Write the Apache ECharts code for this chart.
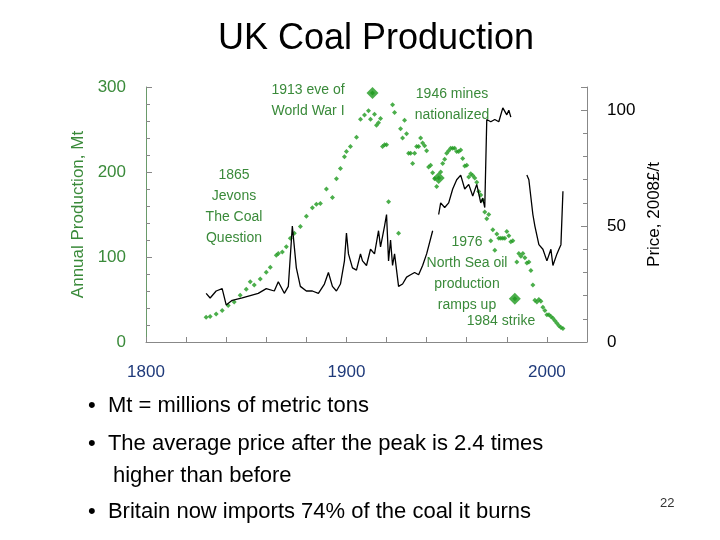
<!DOCTYPE html>
<html><head><meta charset="utf-8">
<script src="https://cdn.jsdelivr.net/npm/echarts@6/dist/echarts.min.js"></script>
<style>body{margin:0;background:#fff}#c{width:720px;height:540px}</style>
</head><body><div id="c"></div>
<script>
// production, Mt (left axis)
var prodYears = [1830,1832,1835,1838,1841,1844,1847,1850,1852,1854,1857,1860,1862,1865,1866,1868,1870,1872,1874,1877,1880,1883,1885,1887,1890,1893,1895,1897,1899,1900,1902,1905,1907,1909,1911,1912,1913,1914,1915,1916,1917,1918,1919,1920,1921,1923,1924,1926,1927,1928,1929,1930,1931,1932,1933,1934,1935,1936,1937,1938,1939,1940,1941,1942,1943,1944,1945,1946,1947,1948,1949,1950,1951,1952,1953,1954,1955,1956,1957,1958,1959,1960,1961,1962,1963,1964,1965,1966,1967,1968,1969,1970,1971,1972,1973,1974,1975,1976,1977,1978,1979,1980,1981,1982,1983,1984,1985,1986,1987,1988,1989,1990,1991,1992,1993,1994,1995,1996,1997,1998,1999,2000,2001,2002,2003,2004,2005,2006,2007,2008];
var prodValues = [29,30,33,37,43,47,55,62,71,67,74,82,88,102,104,106,112,122,128,136,148,158,162,163,180,170,192,204,218,224,230,241,262,267,272,262,293,268,255,258,263,230,232,232,165,279,270,128,251,240,261,245,222,222,210,222,230,230,240,234,231,225,206,208,199,192,183,193,200,210,215,222,225,228,228,228,224,224,226,216,207,208,194,198,196,193,188,177,173,167,153,145,150,119,132,108,127,122,122,122,122,130,125,118,119,51,94,104,101,104,99,93,94,84,67,49,47,50,48,41,37,32,32,30,28,25,22,19,17,16];
// price, 2008 £/t (right axis); null = gap
var priceYears = [1830,1832,1835,1838,1840,1843,1848,1852,1856,1860,1864,1866,1869,1871,1873,1875,1877,1880,1883,1886,1889,1891,1893,1895,1897,1899,1900,1901,1903,1905,1907,1908,1910,1912,1914,1916,1917,1919,1920,1921,1922,1923,1924,1926,1928,1930,1932,1934,1936,1938,1940,1943,1945,1946,1947,1949,1951,1953,1955,1957,1959,1961,1963,1965,1967,1968,1969,1970,1972,1974,1976,1978,1980,1981,1982,1985,1990,1991,1993,1994,1996,1998,2000,2002,2003,2005,2006,2007,2008];
var priceValues = [21,19,22,23,16,18,19,20,21,23,22,26,21,24,50,32,24,22,22,21,25,30,24,22,25,35,47,38,32,31,38,35,33,40,38,48,41,50,55,35,44,33,38,24,25,28,29,30,29,33,38,48,null,55,60,58,60,66,70,72,66,68,63,68,60,62,58,96,95,96,95,101,98,100,97,null,72,70,55,50,42,40,35,40,33,38,40,42,65];
var keyYears = [1913,1946,1984];
var keyValues = [293,193,51];

var chart = echarts.init(document.getElementById('c'));
var green = '#3a8a3a', dot = '#1e9a1e';
function pairs(xs, ys){ return xs.map(function(x,i){ return [x, ys[i]]; }); }
function ann(x, y, t){
  return {type: 'text', x: x, y: y, style: {text: t, fill: green, fontSize: 14, fontFamily: 'Liberation Sans',
    align: 'center', lineHeight: 21}};
}
function bullet(x, y, t){
  return {type: 'text', x: x, y: y, style: {text: t, fontSize: 22, fill: '#000', fontFamily: 'Liberation Sans'}};
}
chart.setOption({
  animation: false,
  title: {text: 'UK Coal Production', left: 371, top: 16, textAlign: 'center',
    textStyle: {fontSize: 36, fontWeight: 'normal', color: '#000', fontFamily: 'Liberation Sans'}},
  grid: {left: 146, right: 133, top: 87, bottom: 198},
  xAxis: {type: 'value', min: 1800, max: 2020, interval: 20,
    axisLine: {lineStyle: {color: '#888'}}, axisTick: {inside: true, length: 5, lineStyle: {color: '#888'}},
    splitLine: {show: false},
    axisLabel: {margin: 22, fontSize: 17, color: '#1f3a7a', fontFamily: 'Liberation Sans',
      formatter: function(v){ return v % 100 === 0 ? v : ''; }}},
  yAxis: [
    {type: 'value', min: 0, max: 300, interval: 100, name: 'Annual Production, Mt',
     nameLocation: 'middle', nameGap: 52, nameTextStyle: {color: green, fontSize: 17, fontFamily: 'Liberation Sans'},
     axisLine: {show: true, lineStyle: {color: '#6a9a6a'}}, axisTick: {inside: true, length: 6, lineStyle: {color: '#888'}},
     minorTick: {show: true, splitNumber: 5, length: 4, lineStyle: {color: '#888'}},
     splitLine: {show: false},
     axisLabel: {margin: 20, fontSize: 17, color: green, fontFamily: 'Liberation Sans'}},
    {type: 'value', min: 0, max: 110, interval: 50, name: 'Price, 2008£/t',
     nameLocation: 'middle', nameGap: 52, nameTextStyle: {color: '#000', fontSize: 17, fontFamily: 'Liberation Sans'},
     axisLine: {show: true, lineStyle: {color: '#888'}}, axisTick: {inside: true, length: 6, lineStyle: {color: '#888'}},
     minorTick: {show: true, splitNumber: 5, length: 4, lineStyle: {color: '#888'}},
     splitLine: {show: false},
     axisLabel: {margin: 20, fontSize: 17, color: '#000', fontFamily: 'Liberation Sans', showMaxLabel: false}}
  ],
  series: [
    {type: 'line', yAxisIndex: 1, data: pairs(priceYears, priceValues), showSymbol: false,
     connectNulls: false, lineStyle: {color: '#000', width: 1.3}},
    {type: 'scatter', data: pairs(prodYears, prodValues), symbol: 'diamond', symbolSize: 5, itemStyle: {color: dot}},
    {type: 'scatter', data: pairs(keyYears, keyValues), symbol: 'diamond', symbolSize: 12, itemStyle: {color: dot}}
  ],
  graphic: [
    ann(308, 80, '1913 eve of\nWorld War I'),
    ann(452, 84, '1946 mines\nnationalized'),
    ann(234, 165, '1865\nJevons\nThe Coal\nQuestion'),
    ann(467, 232, '1976\nNorth Sea oil\nproduction\nramps up'),
    ann(501, 311, '1984 strike'),
    bullet(88, 395, '•  Mt = millions of metric tons'),
    bullet(88, 433, '•  The average price after the peak is 2.4 times'),
    bullet(113, 465, 'higher than before'),
    bullet(88, 501, '•  Britain now imports 74% of the coal it burns'),
    {type: 'text', x: 660, y: 497, style: {text: '22', fontSize: 13, fill: '#333', fontFamily: 'Liberation Sans'}}
  ]
});
</script></body></html>
